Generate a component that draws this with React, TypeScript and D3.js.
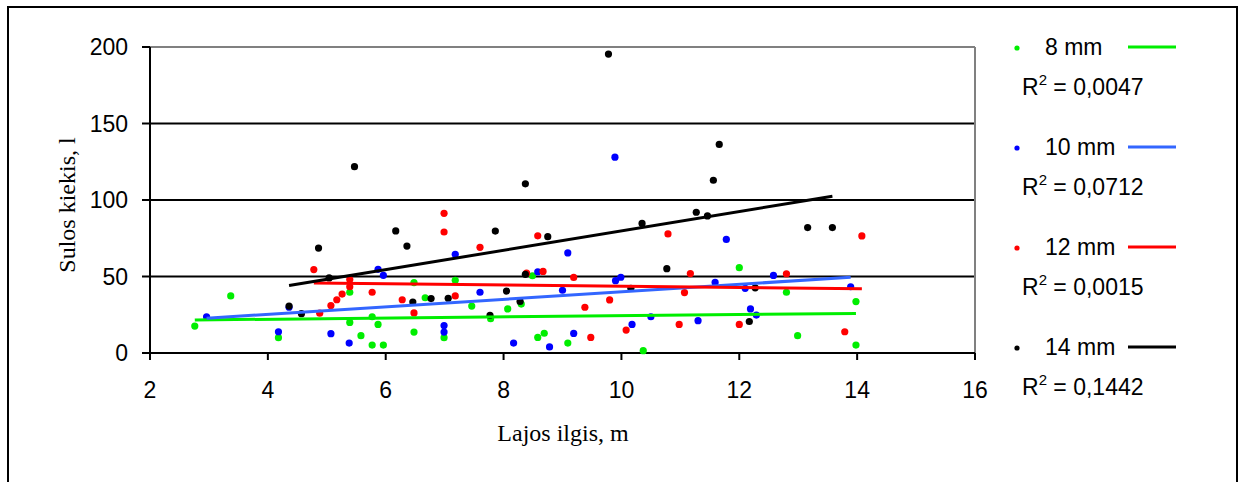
import React from "react";
import * as d3 from "d3";

const xTicks = [2, 4, 6, 8, 10, 12, 14, 16];
const yTicks = [0, 50, 100, 150, 200];

const seriesNames = ["8 mm", "10 mm", "12 mm", "14 mm"];
const r2Labels = ["0,0047", "0,0712", "0,0015", "0,1442"];
const dotColors = ["#00ee00", "#0000ff", "#ff0000", "#000000"];
const lineColors = ["#00ee00", "#3366ff", "#ff0000", "#000000"];

// linear trend coefficients (y = a + b*x)
const trendIntercept = [20.53, 15.44, 47.76, 16.5];
const trendSlope = [0.384, 2.454, -0.409, 6.33];

const x8 = [2.76, 3.37, 4.18, 5.39, 5.39, 5.58, 5.77, 5.77, 5.87, 5.96, 6.48, 6.48, 6.67, 6.99, 7.18, 7.46, 7.78, 8.07, 8.3, 8.49, 8.58, 8.69, 9.09, 10.37, 12.0, 12.8, 12.99, 13.98, 13.98];
const y8 = [17.6, 37.3, 10, 39.7, 20, 11.3, 23.7, 5.2, 18.7, 5.2, 46, 13.7, 36.1, 10, 47.5, 30.7, 22.4, 28.8, 32, 50.5, 10.2, 12.9, 6.5, 1.5, 55.8, 39.7, 11.3, 33.6, 5.2];

const x10 = [2.96, 4.18, 4.36, 5.07, 5.38, 5.87, 5.96, 6.99, 6.99, 7.18, 7.6, 8.17, 8.58, 8.78, 9.0, 9.09, 9.19, 9.89, 9.9, 9.99, 10.18, 10.5, 11.3, 11.59, 11.78, 12.1, 12.19, 12.29, 12.58, 13.89];
const y10 = [23.7, 13.9, 29.9, 12.6, 6.5, 54.7, 50.8, 17.9, 13.7, 64.5, 39.7, 6.5, 53.1, 4, 41, 65.4, 12.8, 128, 47.3, 49.5, 18.7, 23.7, 21.1, 46.1, 74.2, 42.3, 28.8, 24.8, 50.7, 43.3];

const x12 = [4.78, 4.88, 5.07, 5.17, 5.26, 5.39, 5.39, 5.77, 6.28, 6.48, 6.99, 6.99, 7.18, 7.6, 8.39, 8.58, 8.67, 9.19, 9.38, 9.48, 9.8, 10.08, 10.79, 10.98, 11.07, 11.17, 12.0, 12.8, 13.79, 14.08];
const y12 = [54.5, 26, 31, 34.8, 38.5, 48, 43.3, 39.7, 34.8, 26.2, 91.3, 79.1, 37.3, 69.1, 52.2, 76.6, 53.3, 49.4, 29.9, 10.2, 34.7, 15, 77.8, 18.7, 39.5, 51.9, 18.7, 51.8, 13.9, 76.5];

const x14 = [4.36, 4.57, 4.86, 5.04, 5.47, 6.17, 6.36, 6.46, 6.77, 7.06, 7.77, 7.86, 8.05, 8.28, 8.37, 8.37, 8.75, 9.78, 10.16, 10.35, 10.77, 11.27, 11.46, 11.56, 11.66, 12.17, 12.27, 13.16, 13.58];
const y14 = [30.7, 25.7, 68.6, 49.1, 121.8, 79.8, 69.9, 33.3, 35.6, 35.8, 24.6, 79.7, 40.5, 33.7, 110.6, 51.4, 76, 195.4, 42.3, 84.7, 55.1, 92, 89.6, 112.9, 136.3, 20.6, 42.6, 82, 82];

const seriesX = [x8, x10, x12, x14];
const seriesY = [y8, y10, y12, y14];

function trend(si: number): [number, number][] {
  const [x0, x1] = d3.extent(seriesX[si]) as [number, number];
  const a = trendIntercept[si], b = trendSlope[si];
  return [[x0, a + b * x0], [x1, a + b * x1]];
}

const W = 1245, H = 482;
const L = 150, R = 975, T = 47, B = 353;
const SANS = "Liberation Sans, Arial, sans-serif";
const SERIF = "Liberation Serif, Times New Roman, serif";

export default function App() {
  const x = d3.scaleLinear().domain([2, 16]).range([L, R]);
  const y = d3.scaleLinear().domain([0, 200]).range([B, T]);
  const line = d3.line<[number, number]>().x(d => x(d[0])).y(d => y(d[1]));
  const legendY = [47, 147, 247, 347];

  return (
    <svg width={W} height={H} style={{ position: "absolute", left: 0, top: 0, background: "#fff" }}>
      <rect x={8} y={7} width={1229} height={490} fill="#fff" stroke="#000" strokeWidth={2} />
      {yTicks.filter(t => t > 0 && t < 200).map(t => (
        <line key={t} x1={L} x2={R} y1={y(t)} y2={y(t)} stroke="#000" strokeWidth={2} />
      ))}
      <line x1={L} x2={R} y1={T} y2={T} stroke="#808080" strokeWidth={2} />
      <line x1={R} x2={R} y1={T} y2={B} stroke="#808080" strokeWidth={2} />
      <line x1={L} x2={L} y1={T} y2={B} stroke="#000" strokeWidth={2} />
      <line x1={L} x2={R} y1={B} y2={B} stroke="#000" strokeWidth={2} />
      {yTicks.map(t => (
        <g key={"yt" + t}>
          <line x1={L - 8} x2={L} y1={y(t)} y2={y(t)} stroke="#000" strokeWidth={2} />
          <text x={128} y={y(t) + 8} textAnchor="end" fontSize={23} fontFamily={SANS} fill="#000">{t}</text>
        </g>
      ))}
      {xTicks.map(t => (
        <g key={"xt" + t}>
          <line x1={x(t)} x2={x(t)} y1={B} y2={B + 7} stroke="#000" strokeWidth={2} />
          <text x={x(t)} y={398} textAnchor="middle" fontSize={23} fontFamily={SANS} fill="#000">{t}</text>
        </g>
      ))}
      <text transform="translate(75,205) rotate(-90)" textAnchor="middle" fontSize={24} fontFamily={SERIF} fill="#000">Sulos kiekis, l</text>
      <text x={563} y={441} textAnchor="middle" fontSize={24} fontFamily={SERIF} fill="#000">Lajos ilgis, m</text>

      {seriesX.map((xs, si) => (
        <g key={"s" + si}>
          {xs.map((v, i) => (
            <circle key={i} cx={x(v)} cy={y(seriesY[si][i])} r={3.6} fill={dotColors[si]} />
          ))}
        </g>
      ))}
      {seriesX.map((_, si) => (
        <path key={"tl" + si} d={line(trend(si))!} stroke={lineColors[si]} strokeWidth={3} fill="none" />
      ))}

      {seriesNames.map((name, i) => (
        <g key={"lg" + i}>
          <circle cx={1017} cy={legendY[i] + 1} r={2.6} fill={dotColors[i]} />
          <text x={1045} y={legendY[i] + 8} fontSize={23} fontFamily={SANS} fill="#000">{name}</text>
          <line x1={1128} x2={1176} y1={legendY[i]} y2={legendY[i]} stroke={lineColors[i]} strokeWidth={3} />
          <text x={1022} y={legendY[i] + 48} fontSize={23} fontFamily={SANS} fill="#000">
            <tspan>R</tspan>
            <tspan fontSize={15} dy={-10}>2</tspan>
            <tspan dy={10}>{" = " + r2Labels[i]}</tspan>
          </text>
        </g>
      ))}
    </svg>
  );
}
